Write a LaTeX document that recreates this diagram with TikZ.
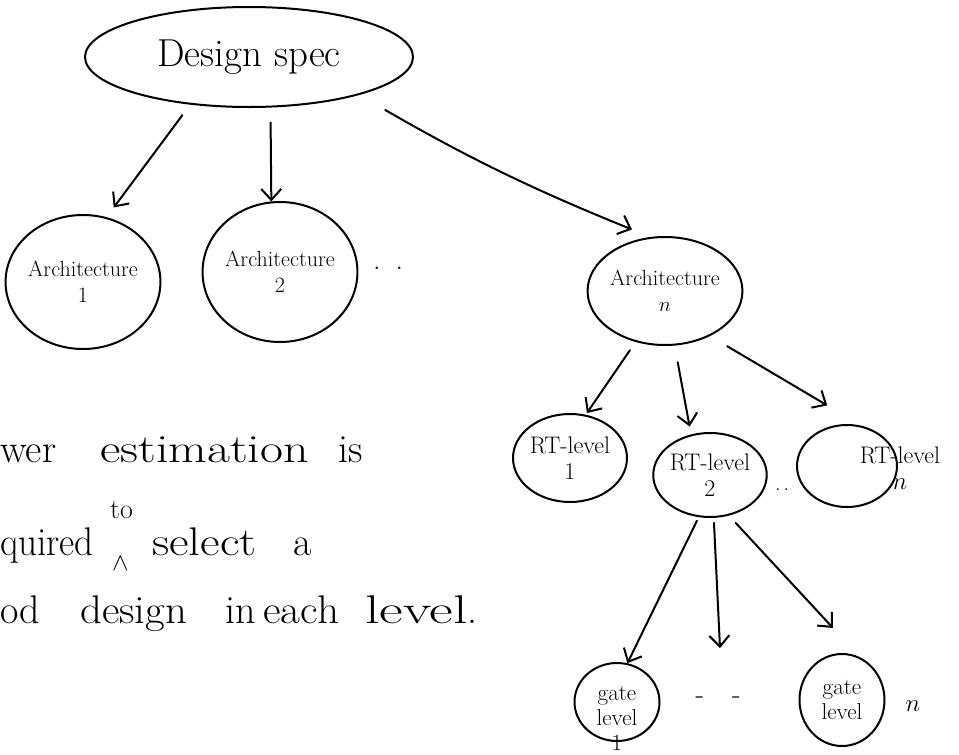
\documentclass[tikz,border=0pt]{standalone}
\usetikzlibrary{shapes.geometric,arrows.meta}
\begin{document}
\begin{tikzpicture}[x=1pt,y=-1pt,
  bub/.style={draw, ellipse, line width=2pt, inner sep=0pt, align=center},
  arr/.style={line width=2pt, line cap=round, -{Straight Barb[length=11pt,width=20pt]}},
  note/.style={anchor=base west, inner sep=0pt, font=\fontsize{40}{48}\selectfont},
  archf/.style={font=\fontsize{22}{26}\selectfont},
  rtf/.style={font=\fontsize{24}{26}\selectfont},
  gatef/.style={font=\fontsize{23}{25}\selectfont}]
\useasboundingbox (0,0) rectangle (959,755);
\clip (0,0) rectangle (959,755);

% nodes
\node[bub, minimum width=328pt, minimum height=100pt, font=\fontsize{39}{42}\selectfont] (ds) at (249,57) {Design spec};
\node[bub, archf, minimum width=150pt, minimum height=134pt] (a1) at (83,282) {Architecture\\1};
\node[bub, archf, minimum width=134pt, minimum height=140pt] (a2) at (280,272) {Architecture\\2};
\node[bub, archf, minimum width=154pt, minimum height=108pt] (an) at (665,291) {Architecture\\$n$};
\node[font=\fontsize{30}{30}\selectfont] (d1) at (388,268) {.\hspace{15pt}.};

\node[bub, rtf, minimum width=114pt, minimum height=88pt] (rt1) at (570,458) {RT-level\\1};
\node[bub, rtf, minimum width=106pt, minimum height=84pt] (rt2) at (710,475) {RT-level\\2};
\node[bub, minimum width=100pt, minimum height=82pt] (rtn) at (847,466) {};
\node[rtf, align=center] (rtnt) at (900,468) {RT-level\\$n$};
\node[font=\fontsize{22}{22}\selectfont] (d2) at (782,490) {.\hspace{3pt}.};

\node[bub, minimum width=85pt, minimum height=78pt] (g1) at (617,702) {};
\node[gatef, align=center] (g1t) at (617,718) {gate\\level\\1};
\node[bub, gatef, minimum width=85pt, minimum height=92pt] (gn) at (842,700) {gate\\level};
\node[font=\fontsize{36}{36}\selectfont] (gnn) at (913,706) {$n$};
\node[font=\fontsize{28}{28}\selectfont] (d3) at (718,700) {-\hspace{28pt}-};
\coordinate (gm) at (720,648);

% note text (the reference shows these lines cut at the left edge)
\node[note] (w1) at (0,462) {wer};
\node[note] (w2) at (100,462) {\scalebox{1.25}[1]{estimation}};
\node[note] (w3) at (338,462) {is};
\node[note] (w4) at (0,555) {\scalebox{0.93}[1]{quired}};
\node[note, font=\fontsize{28}{30}\selectfont] (w5) at (110,518) {to};
\node[note, font=\fontsize{30}{30}\selectfont] (w6) at (112,570) {$\wedge$};
\node[note] (w7) at (152,555) {\scalebox{1.2}[1]{select}};
\node[note] (w8) at (293,555) {a};
\node[note] (w9) at (0,623) {od};
\node[note] (w10) at (80,623) {\scalebox{1.07}[1]{design}};
\node[note] (w11) at (225,623) {in};
\node[note] (w12) at (263,623) {\scalebox{1.08}[1]{each}};
\node[note] (w13) at (365,623) {\scalebox{1.45}[1]{level}.};

% connectors
\draw[arr, shorten <=13pt, shorten >=12pt] (ds.219) -- (a1.70);
\draw[arr, shorten <=15pt] (ds.293) -- (a2.97);
\draw[arr, shorten <=30pt, shorten >=20pt] (ds.-19) to[bend right=4] (an.105);
\draw[arr, shorten <=10pt, shorten >=2pt] (an.240) -- (rt1.70);
\draw[arr, shorten <=17pt, shorten >=8pt] (an.280) -- (rt2.115);
\draw[arr, shorten <=20pt, shorten >=40pt] (an.-45) -- (rtn.70);
\draw[arr, shorten <=4pt] (rt2.255) -- (g1.75);
\draw[arr, shorten <=5pt] (rt2.275) -- (gm);
\draw[arr, shorten <=10pt, shorten >=40pt] (rt2.295) -- (gn.67);
\end{tikzpicture}
\end{document}
